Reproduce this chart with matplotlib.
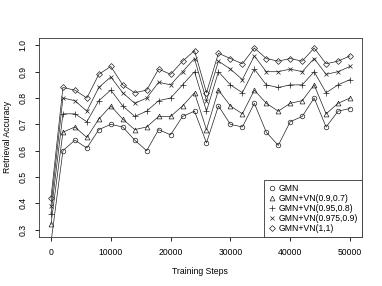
import numpy as np
import matplotlib.pyplot as plt
from matplotlib.lines import Line2D

plt.rcParams["font.family"] = ["Liberation Sans", "DejaVu Sans"]

steps = np.arange(0, 50001, 2000)

gmn = [0.25, 0.60, 0.64, 0.61, 0.68, 0.70, 0.69, 0.64, 0.60, 0.68, 0.66, 0.73, 0.75,
       0.63, 0.77, 0.70, 0.69, 0.78, 0.67, 0.62, 0.71, 0.73, 0.80, 0.69, 0.75, 0.76]
vn_09_07 = [0.32, 0.67, 0.69, 0.65, 0.72, 0.77, 0.72, 0.68, 0.69, 0.73, 0.73, 0.77, 0.82,
            0.68, 0.83, 0.77, 0.74, 0.83, 0.78, 0.75, 0.78, 0.79, 0.85, 0.74, 0.78, 0.80]
vn_095_08 = [0.36, 0.74, 0.74, 0.71, 0.79, 0.83, 0.77, 0.73, 0.75, 0.79, 0.80, 0.85, 0.90,
             0.75, 0.90, 0.85, 0.82, 0.91, 0.85, 0.84, 0.85, 0.85, 0.90, 0.82, 0.85, 0.87]
vn_0975_09 = [0.39, 0.80, 0.79, 0.75, 0.84, 0.88, 0.82, 0.78, 0.80, 0.86, 0.85, 0.90, 0.95,
              0.79, 0.94, 0.91, 0.87, 0.96, 0.90, 0.90, 0.91, 0.90, 0.95, 0.89, 0.90, 0.92]
vn_1_1 = [0.42, 0.84, 0.83, 0.80, 0.89, 0.92, 0.85, 0.82, 0.83, 0.91, 0.89, 0.94, 0.98,
          0.82, 0.97, 0.95, 0.93, 0.99, 0.95, 0.94, 0.95, 0.94, 0.99, 0.93, 0.94, 0.96]

labels = ["GMN", "GMN+VN(0.9,0.7)", "GMN+VN(0.95,0.8)", "GMN+VN(0.975,0.9)", "GMN+VN(1,1)"]
series = [gmn, vn_09_07, vn_095_08, vn_0975_09, vn_1_1]
markers = ["o", "^", "+", "x", "D"]
msizes = [3.3, 3.5, 4.2, 3.4, 3.0]

fig = plt.figure(figsize=(3.82, 2.86), dpi=100)
ax = fig.add_axes([39 / 382, 1 - 237 / 286, 323 / 382, 199 / 286])

for y, m, ms in zip(series, markers, msizes):
    ax.plot(steps, y, color="#222222", lw=0.5, marker=m, ms=ms, mew=0.5,
            mfc="none", mec="#222222")

ax.set_xlim(-2000, 52000)
ax.set_ylim(0.272, 1.028)
ax.set_xticks([0, 10000, 20000, 30000, 40000, 50000])
ax.set_yticks([0.3, 0.4, 0.5, 0.6, 0.7, 0.8, 0.9, 1.0])
ax.set_yticklabels(["0.3", "0.4", "0.5", "0.6", "0.7", "0.8", "0.9", "1.0"],
                   rotation=90, va="center")
ax.tick_params(direction="out", length=3, width=0.6, labelsize=6.2, pad=5)
for s in ax.spines.values():
    s.set_linewidth(0.6)
    s.set_color("#333333")

handles = [Line2D([], [], color="#222222", marker=m, ls="none", ms=ms, mew=0.5,
                  mfc="none") for m, ms in zip(markers, msizes)]
leg = ax.legend(handles, labels, loc="lower right", borderaxespad=0,
                fancybox=False, edgecolor="#333333", framealpha=1, fontsize=6.2,
                handlelength=1.0, handletextpad=0.3, labelspacing=0.13,
                borderpad=0.45)
leg.get_frame().set_linewidth(0.6)

fig.text(200 / 382, 1 - 272 / 286, "Training Steps", ha="center", va="center",
         fontsize=6.2)
fig.text(8 / 382, 1 - 137 / 286, "Retrieval Accuracy", ha="center", va="center",
         rotation=90, fontsize=6.2)

fig.savefig("out.png", dpi=100)
